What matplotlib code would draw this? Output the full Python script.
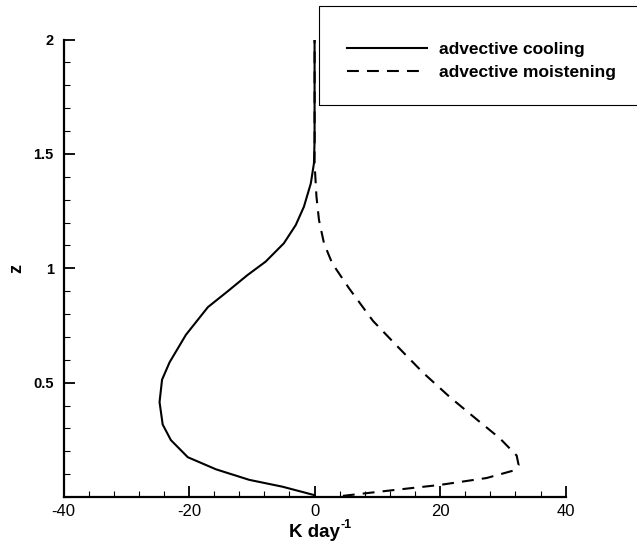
import matplotlib
matplotlib.use('Agg')
import matplotlib.pyplot as plt
from matplotlib.patches import Rectangle
from matplotlib.ticker import FixedLocator, MultipleLocator

plt.rcParams['font.family'] = ['Liberation Sans', 'DejaVu Sans']
plt.rcParams['axes.unicode_minus'] = False

# advective cooling profile (K/day vs z)
z_cool = [0.008, 0.045, 0.075, 0.121, 0.174, 0.249, 0.317, 0.415, 0.513,
          0.589, 0.709, 0.830, 0.898, 0.970, 1.029, 1.109, 1.189,
          1.269, 1.371, 1.459, 1.561, 2.0]
cooling = [0.0, -5.1, -10.4, -15.7, -20.2, -22.9, -24.2, -24.7, -24.3,
           -23.1, -20.5, -17.0, -13.9, -10.7, -7.8, -4.9, -3.0,
           -1.7, -0.6, -0.1, 0.0, 0.0]

# advective moistening profile
z_moist = [0.005, 0.030, 0.053, 0.083, 0.115, 0.140, 0.181, 0.257, 0.340,
           0.438, 0.543, 0.664, 0.770, 0.912, 1.022, 1.109, 1.211, 1.313,
           1.459, 1.540, 2.0]
moistening = [4.5, 12.5, 20.0, 27.4, 31.6, 32.5, 32.2, 29.5, 25.8,
              21.5, 17.3, 13.0, 9.3, 5.5, 2.8, 1.5, 0.7, 0.3,
              0.0, 0.0, 0.0]

x_ticks = [-40, -20, 0, 20, 40]
z_ticks = [0.5, 1, 1.5, 2]
z_tick_labels = ['0.5', '1', '1.5', '2']


fig = plt.figure(figsize=(6.37, 5.42), dpi=100)
ax = fig.add_axes([0.0997, 0.083, 0.7883, 0.8441])

l1, = ax.plot(moistening, z_moist, color='black', lw=1.5,
              linestyle=(0, (5.7, 3.9)), label='advective moistening')
l0, = ax.plot(cooling, z_cool, color='black', lw=1.5, label='advective cooling')

ax.set_xlim(-40, 40)
ax.set_ylim(0, 2)

for side in ['top', 'right']:
    ax.spines[side].set_visible(False)
for side in ['left', 'bottom']:
    ax.spines[side].set_linewidth(1.6)

ax.xaxis.set_major_locator(FixedLocator(x_ticks))
ax.xaxis.set_minor_locator(MultipleLocator(4))
ax.yaxis.set_major_locator(FixedLocator(z_ticks))
ax.yaxis.set_minor_locator(MultipleLocator(0.1))
ax.set_yticklabels(z_tick_labels)

ax.tick_params(which='both', direction='in', top=False, right=False)
ax.tick_params(which='major', length=8, width=1.3)
ax.tick_params(which='minor', length=4.5, width=0.8)
ax.tick_params(axis='x', which='major', labelsize=12, pad=5)
ax.tick_params(axis='y', which='major', labelsize=10.5, pad=7)
for lab in ax.get_yticklabels():
    lab.set_fontweight('bold')

# x label with a small hyphen superscript, as in the original
xlab = ax.text(0.5, -0.058, 'K day', transform=ax.transAxes,
               ha='center', va='top', fontsize=13.5, fontweight='bold')
ax.annotate('-1', xy=(1, 1), xycoords=xlab, xytext=(0.3, 3),
            textcoords='offset points', ha='left', va='top',
            fontsize=9, fontweight='bold')
ax.set_ylabel('z', fontsize=13, fontweight='bold', labelpad=6)

# legend box runs off the right edge like in the original
fig.patches.append(Rectangle((319.3 / 637, 1 - 105 / 542), 0.55, 99 / 542,
                             transform=fig.transFigure, fill=False,
                             edgecolor='black', lw=0.8, clip_on=False))
fig.legend(handles=[l0, l1], loc='upper left',
           bbox_to_anchor=(346.7 / 637, 1 - 42 / 542),
           frameon=False, borderpad=0, borderaxespad=0,
           handlelength=4.6, handletextpad=0.72, labelspacing=0.45,
           prop={'size': 12.5, 'weight': 'bold'})

fig.savefig('out.png', dpi=100)
